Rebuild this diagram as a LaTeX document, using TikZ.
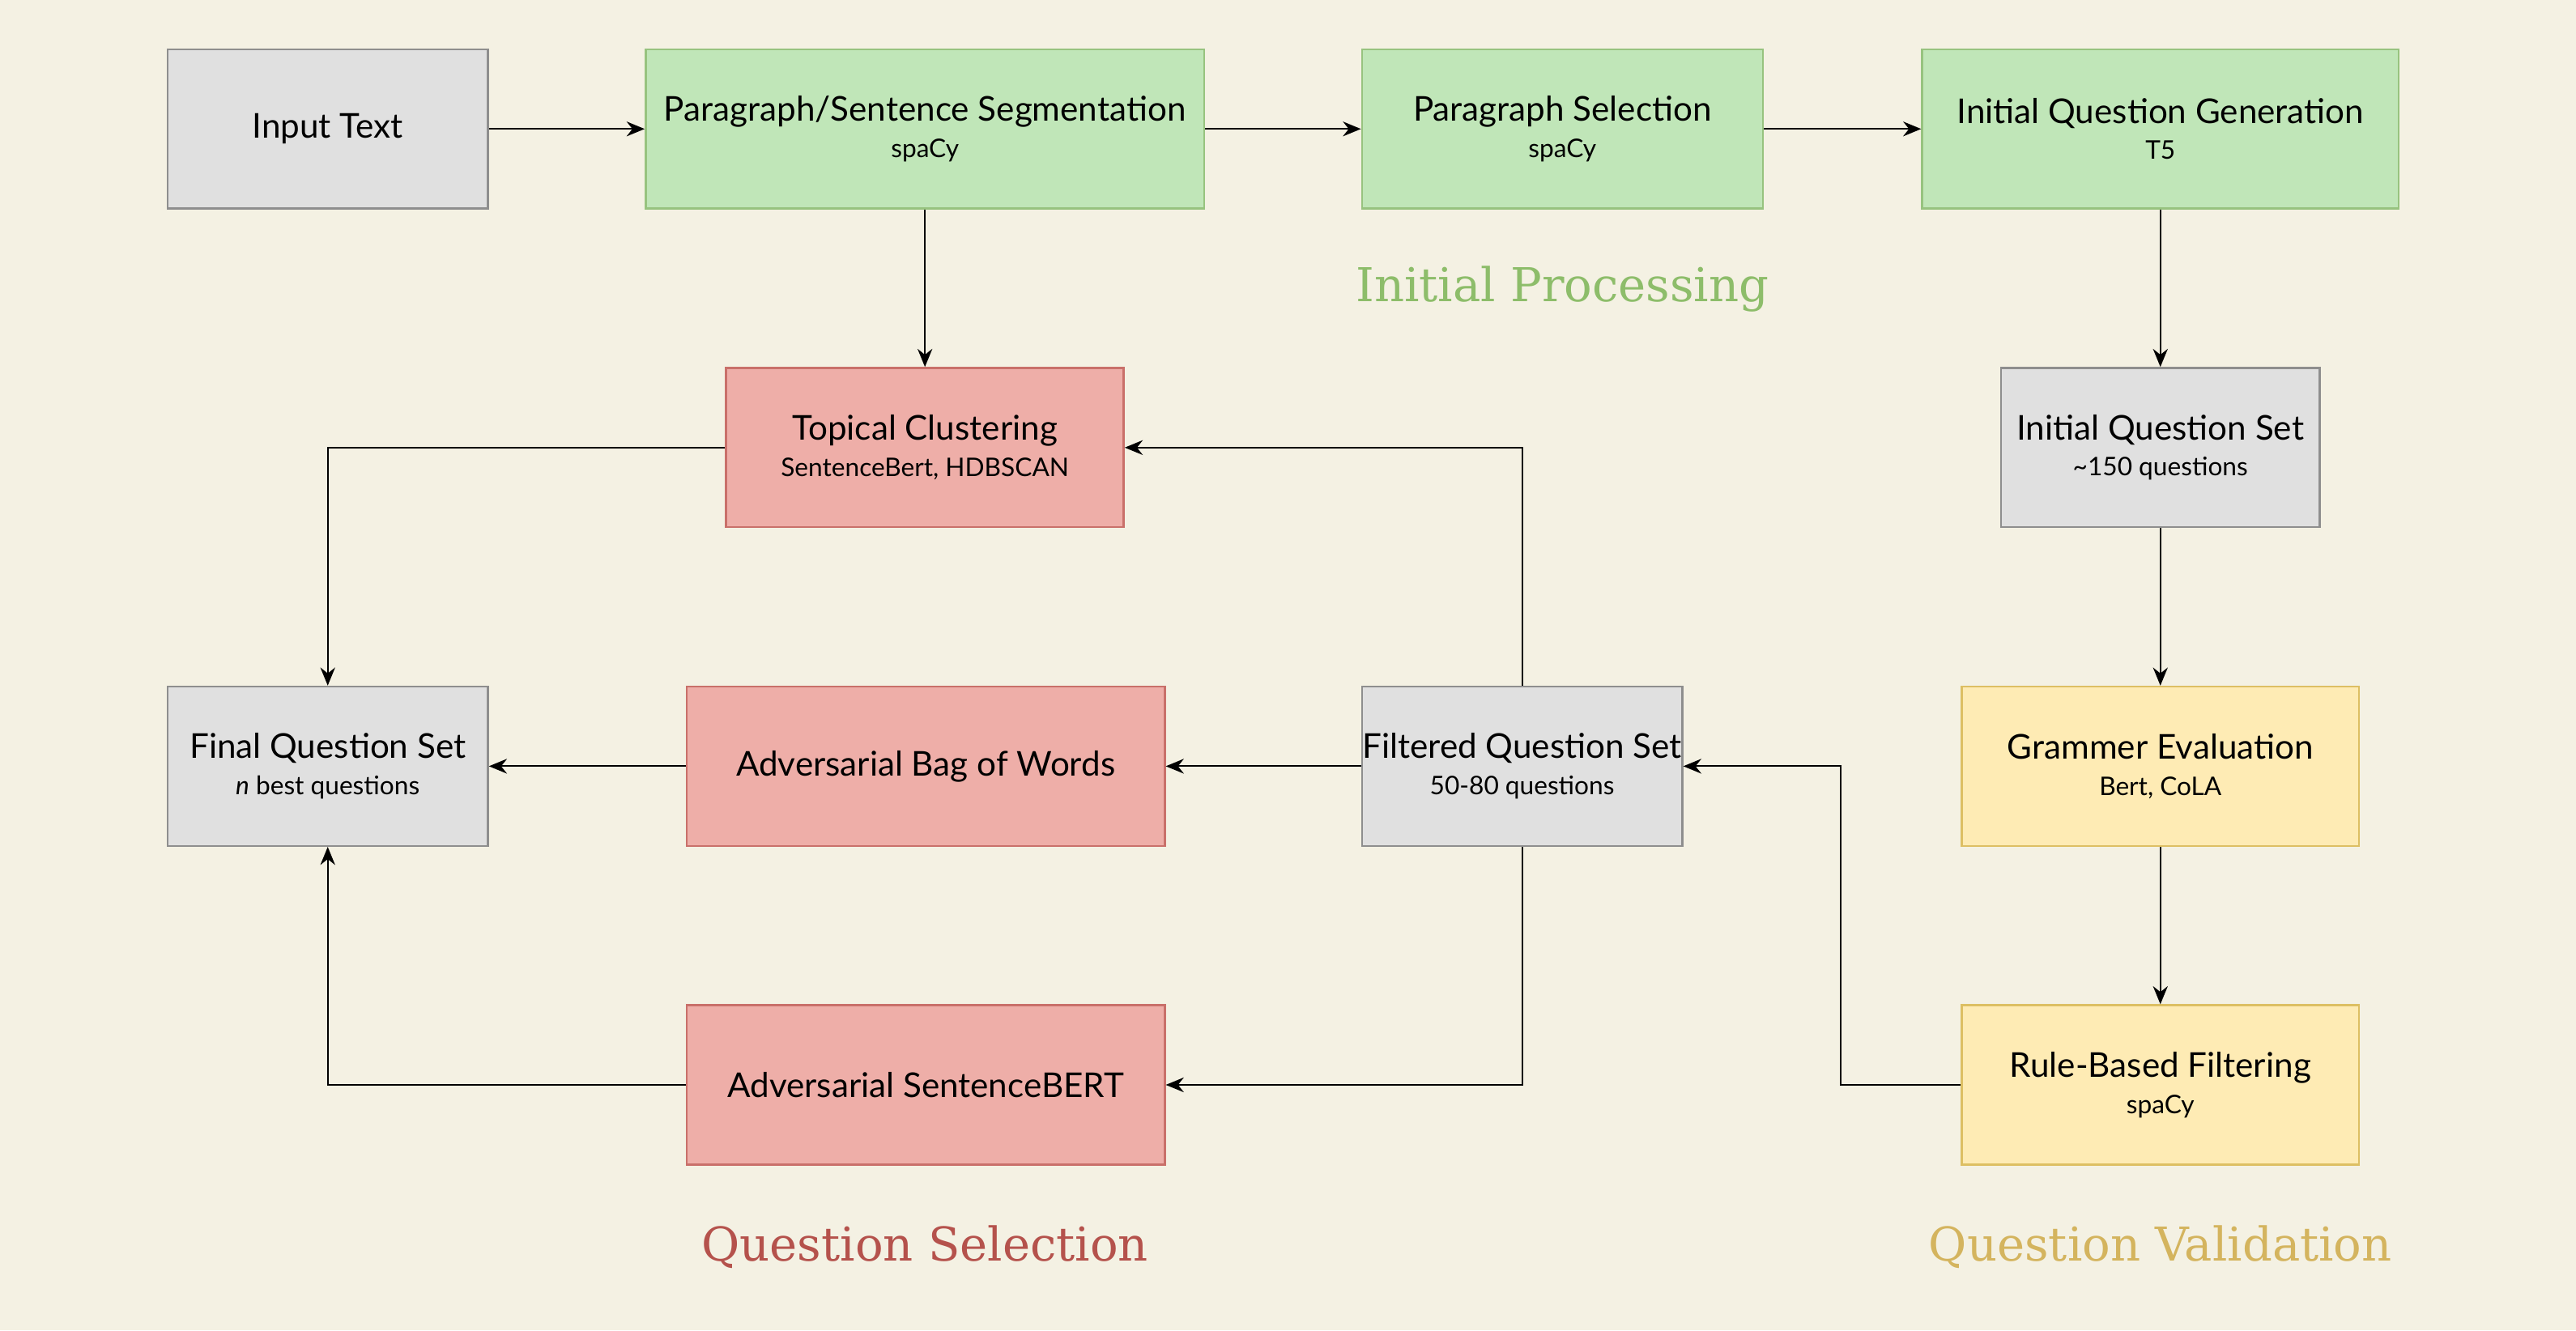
\documentclass[tikz,border=0pt]{standalone}
\usepackage{fontspec}
\setmainfont{Lato}
\newfontfamily\labelfont{DejaVu Serif}
\usetikzlibrary{arrows.meta}

\definecolor{bgcream}{HTML}{F4F1E3}
\definecolor{grayfill}{HTML}{E0E0E0}
\definecolor{grayline}{HTML}{8E8E8E}
\definecolor{greenfill}{HTML}{C0E6B8}
\definecolor{greenline}{HTML}{97C37F}
\definecolor{redfill}{HTML}{EEAEA8}
\definecolor{redline}{HTML}{C9706A}
\definecolor{yellowfill}{HTML}{FEEBB4}
\definecolor{yellowline}{HTML}{DDBF63}
\definecolor{greentext}{HTML}{8DBD6A}
\definecolor{redtext}{HTML}{B5524C}
\definecolor{goldtext}{HTML}{D4B45E}

\tikzset{
  box/.style={draw, line width=0.6pt, minimum height=48.5pt, align=center,
    inner xsep=0pt, inner ysep=2pt, font=\fontsize{10.4}{12.5}\selectfont},
  graybox/.style={box, fill=grayfill, draw=grayline},
  greenbox/.style={box, fill=greenfill, draw=greenline},
  redbox/.style={box, fill=redfill, draw=redline},
  yellowbox/.style={box, fill=yellowfill, draw=yellowline},
  arr/.style={-{Stealth[length=5.5pt,width=4.5pt]}, line width=0.5pt},
  stage/.style={font=\labelfont\fontsize{14.2}{16}\selectfont},
}
\newcommand{\sub}[1]{\\[-1.5pt]{\fontsize{7.8}{9.5}\selectfont #1}}

\begin{document}
\begin{tikzpicture}[x=0.5pt, y=-0.5pt]
\fill[bgcream] (0,0) rectangle (1568,810);
\useasboundingbox (0,0) rectangle (1568,810);

% top row
\node[graybox, minimum width=97.5pt] (input) at (199.5,78.5) {Input Text};
\node[greenbox, minimum width=170pt] (seg) at (563,78.5) {Paragraph/Sentence Segmentation\sub{spaCy}};
\node[greenbox, minimum width=122pt] (parasel) at (951,78.5) {Paragraph Selection\sub{spaCy}};
\node[greenbox, minimum width=145pt] (iqg) at (1315,78.5) {Initial Question Generation\sub{T5}};

% second row
\node[redbox, minimum width=121pt] (topic) at (563,272.5) {Topical Clustering\sub{SentenceBert, HDBSCAN}};
\node[graybox, minimum width=97pt] (iqs) at (1315,272.5) {Initial Question Set\sub{\textasciitilde150 questions}};

% third row
\node[graybox, minimum width=97.5pt] (final) at (199.5,466.5) {Final Question Set\sub{\textit{n} best questions}};
\node[redbox, minimum width=145.5pt] (bow) at (563.5,466.5) {Adversarial Bag of Words};
\node[graybox, minimum width=97.5pt] (filt) at (926.5,466.5) {Filtered Question Set\sub{50-80 questions}};
\node[yellowbox, minimum width=121pt] (gram) at (1315,466.5) {Grammer Evaluation\sub{Bert, CoLA}};

% bottom row
\node[redbox, minimum width=145.5pt] (sbert) at (563.5,660.5) {Adversarial SentenceBERT};
\node[yellowbox, minimum width=121pt] (rule) at (1315,660.5) {Rule-Based Filtering\sub{spaCy}};

% stage labels
\node[stage, text=greentext] (lproc) at (951,176) {Initial Processing};
\node[stage, text=redtext] (lsel) at (563,759) {Question Selection};
\node[stage, text=goldtext] (lval) at (1315,759) {Question Validation};

% connectors
\draw[arr] (input) -- (seg);
\draw[arr] (seg) -- (parasel);
\draw[arr] (parasel) -- (iqg);
\draw[arr] (seg) -- (topic);
\draw[arr] (iqg) -- (iqs);
\draw[arr] (iqs) -- (gram);
\draw[arr] (gram) -- (rule);
\draw[arr] (rule.west) -- ++(-73,0) |- (filt.east);
\draw[arr] (filt.north) |- (topic.east);
\draw[arr] (filt) -- (bow);
\draw[arr] (filt.south) |- (sbert.east);
\draw[arr] (bow) -- (final);
\draw[arr] (topic.west) -| (final.north);
\draw[arr] (sbert.west) -| (final.south);
\end{tikzpicture}
\end{document}
